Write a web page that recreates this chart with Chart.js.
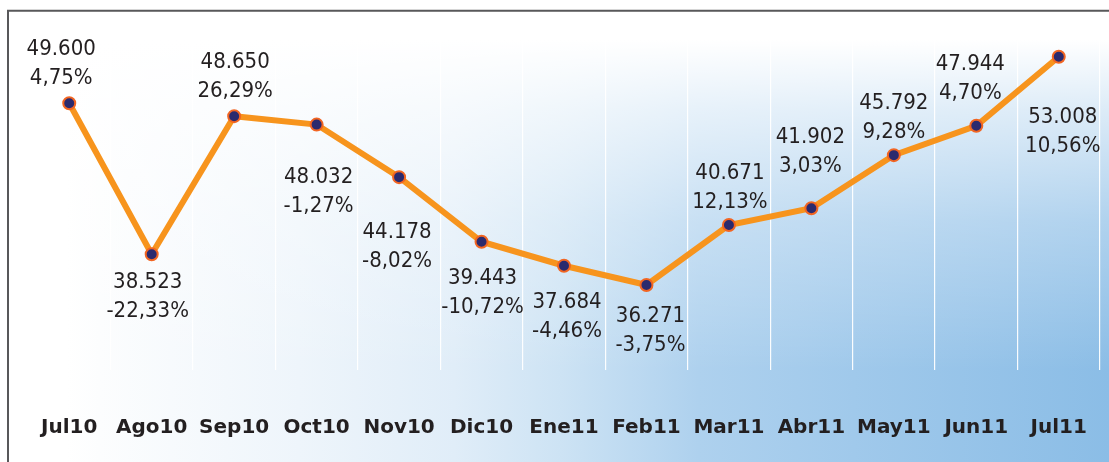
<!DOCTYPE html>
<html>
<head>
<meta charset="utf-8">
<script src="https://cdn.jsdelivr.net/npm/chart.js@4/dist/chart.umd.min.js"></script>
<style>
  html, body { margin: 0; padding: 0; background: #ffffff; }
  #wrap { width: 1109px; height: 462px; position: relative; }
</style>
</head>
<body>
<div id="wrap"><canvas id="c" width="1109" height="462"></canvas></div>
<script>
// ---- data ----
const categories = ['Jul10','Ago10','Sep10','Oct10','Nov10','Dic10','Ene11','Feb11','Mar11','Abr11','May11','Jun11','Jul11'];
const values = [49600, 38523, 48650, 48032, 44178, 39443, 37684, 36271, 40671, 41902, 45792, 47944, 53008];
const pctChange = [4.75, -22.33, 26.29, -1.27, -8.02, -10.72, -4.46, -3.75, 12.13, 3.03, 9.28, 4.70, 10.56];

// ---- label placement (style, not data): offset of first label line centre from point ----
const labelOffsets = [
  [-8,-56],[-4,26],[1,-56],[2,50],[-2,53],[1,34],[3,34],[4,29],[1,-54],[-1,-73],[0,-54],[-6,-64],[4,58]
];

function fmtNum(v){ return String(v).replace(/\B(?=(\d{3})+(?!\d))/g, '.'); }
function fmtPct(p){ return p.toFixed(2).replace('.', ',') + '%'; }

const bgPlugin = {
  id: 'bg',
  beforeDraw(chart) {
    const ctx = chart.ctx;
    const W = chart.width, H = chart.height;
    const bottom = chart.chartArea.bottom;
    ctx.save();
    ctx.fillStyle = '#ffffff';
    ctx.fillRect(0, 0, W, H);
    // horizontal white -> blue
    const gx = ctx.createLinearGradient(0, 0, W, 0);
    gx.addColorStop(0.00, '#ffffff');
    gx.addColorStop(0.06, '#ffffff');
    gx.addColorStop(0.09, '#fcfdfe');
    gx.addColorStop(0.27, '#eef5fb');
    gx.addColorStop(0.41, '#e0edf8');
    gx.addColorStop(0.505, '#cde3f4');
    gx.addColorStop(0.63, '#aed1ee');
    gx.addColorStop(0.77, '#a0c9eb');
    gx.addColorStop(1.00, '#8bbde6');
    ctx.fillStyle = gx;
    ctx.fillRect(9, 12, W - 9, H - 12);
    // vertical white fade over the plot region
    const gy = ctx.createLinearGradient(0, 40, 0, bottom);
    gy.addColorStop(0, 'rgba(255,255,255,1)');
    gy.addColorStop(0.21, 'rgba(255,255,255,0.7)');
    gy.addColorStop(0.55, 'rgba(255,255,255,0.32)');
    gy.addColorStop(1, 'rgba(255,255,255,0)');
    ctx.fillStyle = gy;
    ctx.fillRect(9, 12, W - 9, bottom - 12);
    ctx.restore();
  },
  afterDraw(chart) {
    const ctx = chart.ctx;
    ctx.save();
    ctx.strokeStyle = '#58585a';
    ctx.lineWidth = 2;
    ctx.beginPath();
    ctx.moveTo(8, chart.height);
    ctx.lineTo(8, 10.8);
    ctx.lineTo(chart.width, 10.8);
    ctx.stroke();
    ctx.restore();
  }
};

const labelPlugin = {
  id: 'valLabels',
  afterDatasetsDraw(chart) {
    const ctx = chart.ctx;
    const meta = chart.getDatasetMeta(0);
    ctx.save();
    ctx.font = '22px "DejaVu Sans Condensed", "DejaVu Sans", sans-serif';
    ctx.fillStyle = '#231f20';
    ctx.textAlign = 'center';
    ctx.textBaseline = 'alphabetic';
    meta.data.forEach((pt, i) => {
      const [dx, dy] = labelOffsets[i];
      const x = pt.x + dx;
      const y = pt.y + dy + 8;
      ctx.fillText(fmtNum(values[i]), x, y);
      ctx.fillText(fmtPct(pctChange[i]), x, y + 29);
    });
    ctx.restore();
  }
};

new Chart(document.getElementById('c'), {
  type: 'line',
  data: {
    labels: categories,
    datasets: [{
      data: values,
      borderColor: '#f7941d',
      borderWidth: 6,
      tension: 0,
      pointRadius: 6,
      pointHoverRadius: 6,
      pointBackgroundColor: '#2b2a6e',
      pointBorderColor: '#f26522',
      pointBorderWidth: 2,
      fill: false,
      clip: false
    }]
  },
  options: {
    responsive: false,
    animation: false,
    events: [],
    layout: { padding: { left: 28, right: 9, top: 11, bottom: 0 } },
    plugins: { legend: { display: false }, tooltip: { enabled: false } },
    scales: {
      x: {
        offset: true,
        grid: { display: true, color: 'rgba(255,255,255,0.95)', lineWidth: 1.2, offset: true, drawTicks: false },
        border: { display: false },
        ticks: {
          padding: 46,
          color: '#231f20',
          font: { family: '"DejaVu Sans", sans-serif', size: 20, weight: 'bold' },
          maxRotation: 0, autoSkip: false
        },
        afterFit(scale) {
          scale.height = 92;
          scale.paddingLeft = 0;
          scale.paddingRight = 0;
        }
      },
      y: {
        display: false,
        min: 30040,
        max: 56360
      }
    }
  },
  plugins: [bgPlugin, labelPlugin]
});
</script>
</body>
</html>
